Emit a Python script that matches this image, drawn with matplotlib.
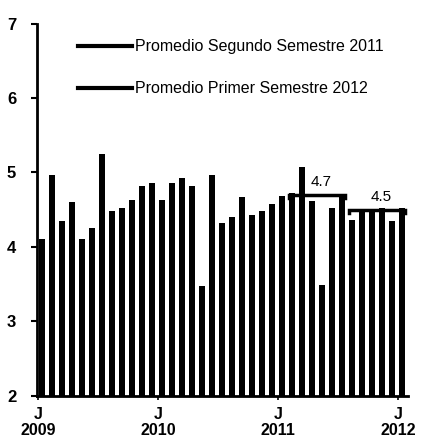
import matplotlib.pyplot as plt
from matplotlib.lines import Line2D

# monthly values, June 2009 - June 2012
months = list(range(37))
values = [4.10, 4.96, 4.34, 4.60, 4.10, 4.25, 5.25, 4.48, 4.52, 4.63,
          4.81, 4.85, 4.63, 4.85, 4.92, 4.81, 3.47, 4.97, 4.32, 4.40,
          4.67, 4.43, 4.48, 4.58, 4.68, 4.72, 5.07, 4.61, 3.48, 4.52,
          4.69, 4.36, 4.46, 4.46, 4.52, 4.34, 4.52]

tick_pos = [0, 12, 24, 36]
tick_labels = ["J\n2009", "J\n2010", "J\n2011", "J\n2012"]

avg_labels = ["Promedio Segundo Semestre 2011", "Promedio Primer Semestre 2012"]
avg_values = [4.7, 4.5]
avg_ranges = [(25, 30), (31, 36)]
avg_text = ["4.7", "4.5"]

plt.rcParams['font.family'] = ['Liberation Sans', 'DejaVu Sans']

fig = plt.figure(figsize=(4.21, 4.43), dpi=100)
ax = fig.add_axes([0.088, 0.1072, 0.881, 0.8397])

ax.bar(months, [v - 2 for v in values], bottom=2, width=0.56, color='black')

# bracket lines for the semester averages
for (a, b), v, t in zip(avg_ranges, avg_values, avg_text):
    ax.plot([a - 0.3, a - 0.3, b + 0.3, b + 0.3], [v - 0.05, v, v, v - 0.05],
            color='black', lw=2.5, solid_joinstyle='miter')
    ax.text((a + b) / 2 + 0.4, v + 0.08, t, ha='center', va='bottom', fontsize=11)

ax.set_xlim(-0.5, 36.6)
ax.set_ylim(2, 7)
ax.set_yticks([2, 3, 4, 5, 6, 7])
ax.set_yticklabels(['2', '3', '4', '5', '6', '7'], fontsize=12, fontweight='bold')
ax.set_xticks([p - 0.4 for p in tick_pos])
ax.set_xticklabels(tick_labels, fontsize=11.5, fontweight='bold', linespacing=1.15)
ax.tick_params(axis='y', length=4, width=1.5, pad=11)
ax.tick_params(axis='x', length=3, width=1.2, pad=5)
for s in ['top', 'right']:
    ax.spines[s].set_visible(False)
ax.spines['left'].set_linewidth(2)
ax.spines['bottom'].set_linewidth(2)

handles = [Line2D([], [], color='black', lw=3) for _ in avg_labels]
ax.legend(handles, avg_labels, loc='upper left', bbox_to_anchor=(0.11, 0.958),
          frameon=False, fontsize=11.5, handlelength=3.4, handletextpad=0.15,
          labelspacing=1.7, borderpad=0, borderaxespad=0)

fig.savefig('out.png', dpi=100)
